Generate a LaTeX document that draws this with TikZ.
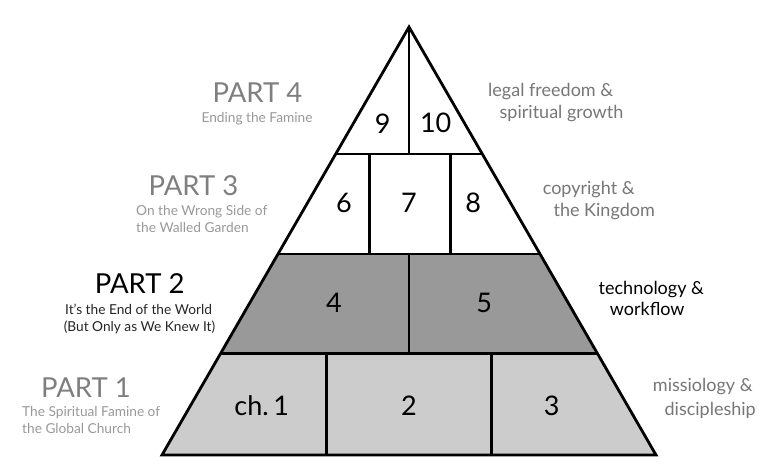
\documentclass[tikz,border=0pt]{standalone}
\usepackage{fontspec}
\setmainfont{Lato}
\usetikzlibrary{calc}
\definecolor{darkrow}{HTML}{999999}
\definecolor{lightrow}{HTML}{CCCCCC}
\definecolor{partgray}{HTML}{7F7F7F}
\definecolor{subgray}{HTML}{999999}
\definecolor{sidegray}{HTML}{777777}
\tikzset{
  edge/.style={line width=2.8pt, line join=miter, line cap=butt},
  num/.style={font=\fontsize{27}{27}\selectfont, text=black, inner sep=0pt},
  partlbl/.style={font=\fontsize{27.5}{27.5}\selectfont, anchor=base, inner sep=0pt},
  sublbl/.style={font=\fontsize{13.7}{13.7}\selectfont, anchor=base, inner sep=0pt},
  sidelbl/.style={font=\fontsize{18}{18}\selectfont, anchor=base, inner sep=0pt},
}
\begin{document}
\begin{tikzpicture}[x=1pt,y=-1pt]
\useasboundingbox (0,0) rectangle (776,470);
\fill[white] (0,0) rectangle (776,470);
% pyramid corners
\coordinate (A) at (409,27);
\coordinate (BL) at (162,455);
\coordinate (BR) at (656,455);
\coordinate (L1) at (335.7,154); \coordinate (R1) at (482.3,154);
\coordinate (L2) at (278,254);   \coordinate (R2) at (540,254);
\coordinate (L3) at (220.7,353.3); \coordinate (R3) at (597.3,353.3);
% fills
\fill[darkrow] (L2) -- (R2) -- (R3) -- (L3) -- cycle;
\fill[lightrow] (L3) -- (R3) -- (BR) -- (BL) -- cycle;
% dividers
\coordinate (d1b) at (409,154);
\coordinate (d2a) at (369.3,154); \coordinate (d2b) at (369.3,254);
\coordinate (d3a) at (450.7,154); \coordinate (d3b) at (450.7,254);
\coordinate (d4a) at (409,254);   \coordinate (d4b) at (409,353.3);
\coordinate (d5a) at (326.7,353.3); \coordinate (d5b) at (326.7,455);
\coordinate (d6a) at (491.3,353.3); \coordinate (d6b) at (491.3,455);
\draw[edge] (L1) -- (R1);
\draw[edge] (L2) -- (R2);
\draw[edge] (L3) -- (R3);
\draw[edge] (A) -- (d1b);
\draw[edge] (d2a) -- (d2b);
\draw[edge] (d3a) -- (d3b);
\draw[edge] (d4a) -- (d4b);
\draw[edge] (d5a) -- (d5b);
\draw[edge] (d6a) -- (d6b);
\draw[edge] (A) -- (BR) -- (BL) -- cycle;
% numbers
\node[num] (n9) at (382.7,123.3) {9};
\node[num] (n10) at (435.7,123.3) {10};
\node[num] (n6) at (344,203) {6};
\node[num] (n7) at (409,203) {7};
\node[num] (n8) at (473.3,203) {8};
\node[num] (n4) at (334,303) {4};
\node[num] (n5) at (484.3,303) {5};
\node[num] (n1) at (261.7,406) {ch.\,1};
\node[num] (n2) at (409,406) {2};
\node[num] (n3) at (551.7,406) {3};
% left labels
\node[partlbl, text=partgray] (p4) at (257.5,103) {PART 4};
\node[sublbl, text=subgray] (p4s) at (257,122.5) {Ending the Famine};
\node[partlbl, text=partgray] (p3) at (193.5,196) {PART 3};
\node[sublbl, text=subgray, anchor=base west] (p3s1) at (136,216) {On the Wrong Side of};
\node[sublbl, text=subgray, anchor=base west] (p3s2) at (136,232.7) {the Walled Garden};
\node[partlbl, text=black] (p2) at (139.7,293.3) {PART 2};
\node[sublbl, text=black!85] (p2s1) at (138.5,314.3) {It’s the End of the World};
\node[sublbl, text=black!85] (p2s2) at (139.5,331) {(But Only as We Knew It)};
\node[partlbl, text=partgray] (p1) at (86,397.5) {PART 1};
\node[sublbl, text=subgray, anchor=base west] (p1s1) at (22,416) {The Spiritual Famine of};
\node[sublbl, text=subgray, anchor=base west] (p1s2) at (22,433) {the Global Church};
% right labels
\node[sidelbl, text=sidegray] (r4a) at (550.7,96.7) {legal freedom \&};
\node[sidelbl, text=sidegray] (r4b) at (561.5,118.3) {spiritual growth};
\node[sidelbl, text=sidegray] (r3a) at (588.7,195) {copyright \&};
\node[sidelbl, text=sidegray] (r3b) at (604.2,216.7) {the Kingdom};
\node[sidelbl, text=black] (r2a) at (651.3,294.3) {technology \&};
\node[sidelbl, text=black] (r2b) at (647.2,316) {workflow};
\node[sidelbl, text=sidegray] (r1a) at (702.8,391.7) {missiology \&};
\node[sidelbl, text=sidegray] (r1b) at (710.2,415) {discipleship};
\end{tikzpicture}
\end{document}
